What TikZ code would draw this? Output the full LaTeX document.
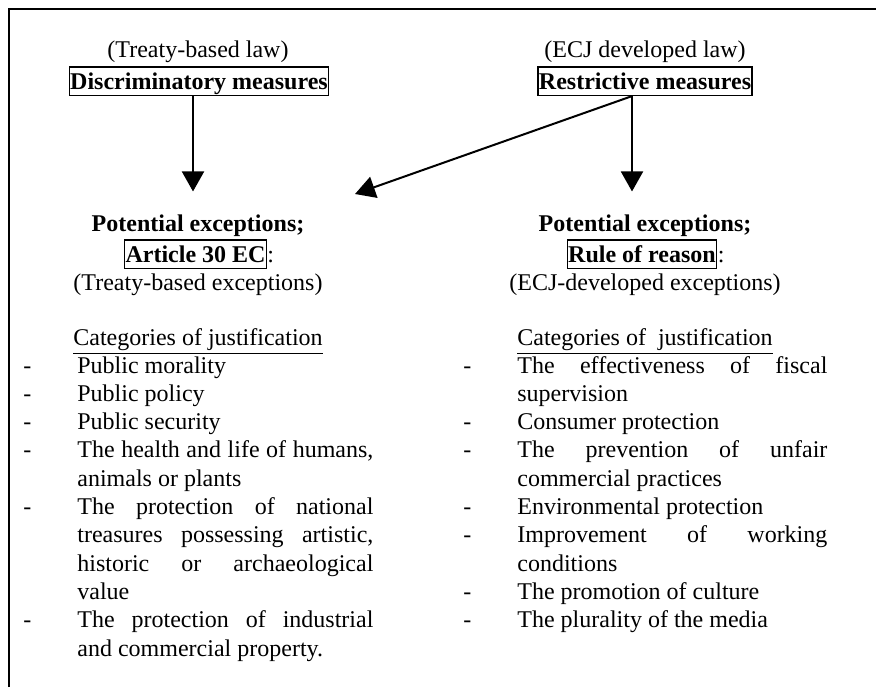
\documentclass[tikz,border=0pt]{standalone}
\usepackage{fontspec}
\setmainfont{Liberation Serif}
\usepackage{array}
\usetikzlibrary{arrows.meta,positioning}
\newcommand{\jline}[1]{\makebox[\linewidth][s]{#1}}

\begin{document}
\begin{tikzpicture}[
x=0.5pt,y=-0.5pt,
font=\fontsize{12}{14.15}\selectfont,
txt/.style={anchor=base,inner sep=0pt},
head/.style={txt,font=\fontsize{12}{14.15}\selectfont\bfseries},
measure/.style={
draw,
line width=0.6pt,
anchor=base,
font=\fontsize{12}{14.15}\selectfont\bfseries,
inner xsep=0.5pt,
inner ysep=0.5pt,
text height=10.5pt,
text depth=2.75pt
},
list/.style={anchor=base west,inner sep=0pt},
arrow/.style={-{Triangle[width=11pt,length=10pt]},line width=1pt},
frame/.style={line width=1.3pt}
]
\useasboundingbox (0,0) rectangle (876,687);
\draw[frame] (9,687) |- (876,9);

% left side: treaty-based
\node[txt] (treatylaw) at (198,57) {(Treaty-based law)};
\node[measure] (discr) at (199,89) {Discriminatory measures};
\node[head] (potleft) at (198,231) {Potential exceptions;};
\node[measure] (art30) at (195.5,262) {Article 30 EC};
\node[txt,anchor=base west] (art30colon) at (art30.base east) {:};
\node[txt] (treatyexc) at (198,290) {(Treaty-based exceptions)};
\node[txt] (catleft) at (198,345) {\underline{Categories of justification}};
\node[list] (leftlist) at (23,373) {\begin{tabular}[t]{@{}p{27pt}@{}p{148pt}@{}}
- & Public morality\\
- & Public policy\\
- & Public security\\
- & \jline{The health and life of humans,}\\
  & animals or plants\\
- & \jline{The protection of national}\\
  & \jline{treasures possessing artistic,}\\
  & \jline{historic or archaeological}\\
  & value\\
- & \jline{The protection of industrial}\\
  & and commercial property.
\end{tabular}};

% right side: ECJ developed
\node[txt] (ecjlaw) at (645,57) {(ECJ developed law)};
\node[measure] (restr) at (645,89) {Restrictive measures};
\node[head] (potright) at (645,231) {Potential exceptions;};
\node[measure] (rule) at (642,262) {Rule of reason};
\node[txt,anchor=base west] (rulecolon) at (rule.base east) {:};
\node[txt] (ecjexc) at (645,290) {(ECJ-developed exceptions)};
\node[txt] (catright) at (645,345) {\underline{Categories of~ justification}};
\node[list] (rightlist) at (463,373) {\begin{tabular}[t]{@{}p{27pt}@{}p{155pt}@{}}
- & \jline{The effectiveness of fiscal}\\
  & supervision\\
- & Consumer protection\\
- & \jline{The prevention of unfair}\\
  & commercial practices\\
- & Environmental protection\\
- & \jline{Improvement of working}\\
  & conditions\\
- & The promotion of culture\\
- & The plurality of the media
\end{tabular}};

\coordinate (diagtip) at (355,194);

\draw[arrow,shorten >=11.25pt] ([xshift=-3pt]discr.south) -- ([xshift=-3pt]discr.south |- potleft.north);
\draw[arrow,shorten >=11.25pt] ([xshift=-6.5pt]restr.south) -- ([xshift=-6.5pt]restr.south |- potright.north);
\draw[arrow] ([xshift=-6.5pt]restr.south) -- (diagtip);
\end{tikzpicture}
\end{document}
